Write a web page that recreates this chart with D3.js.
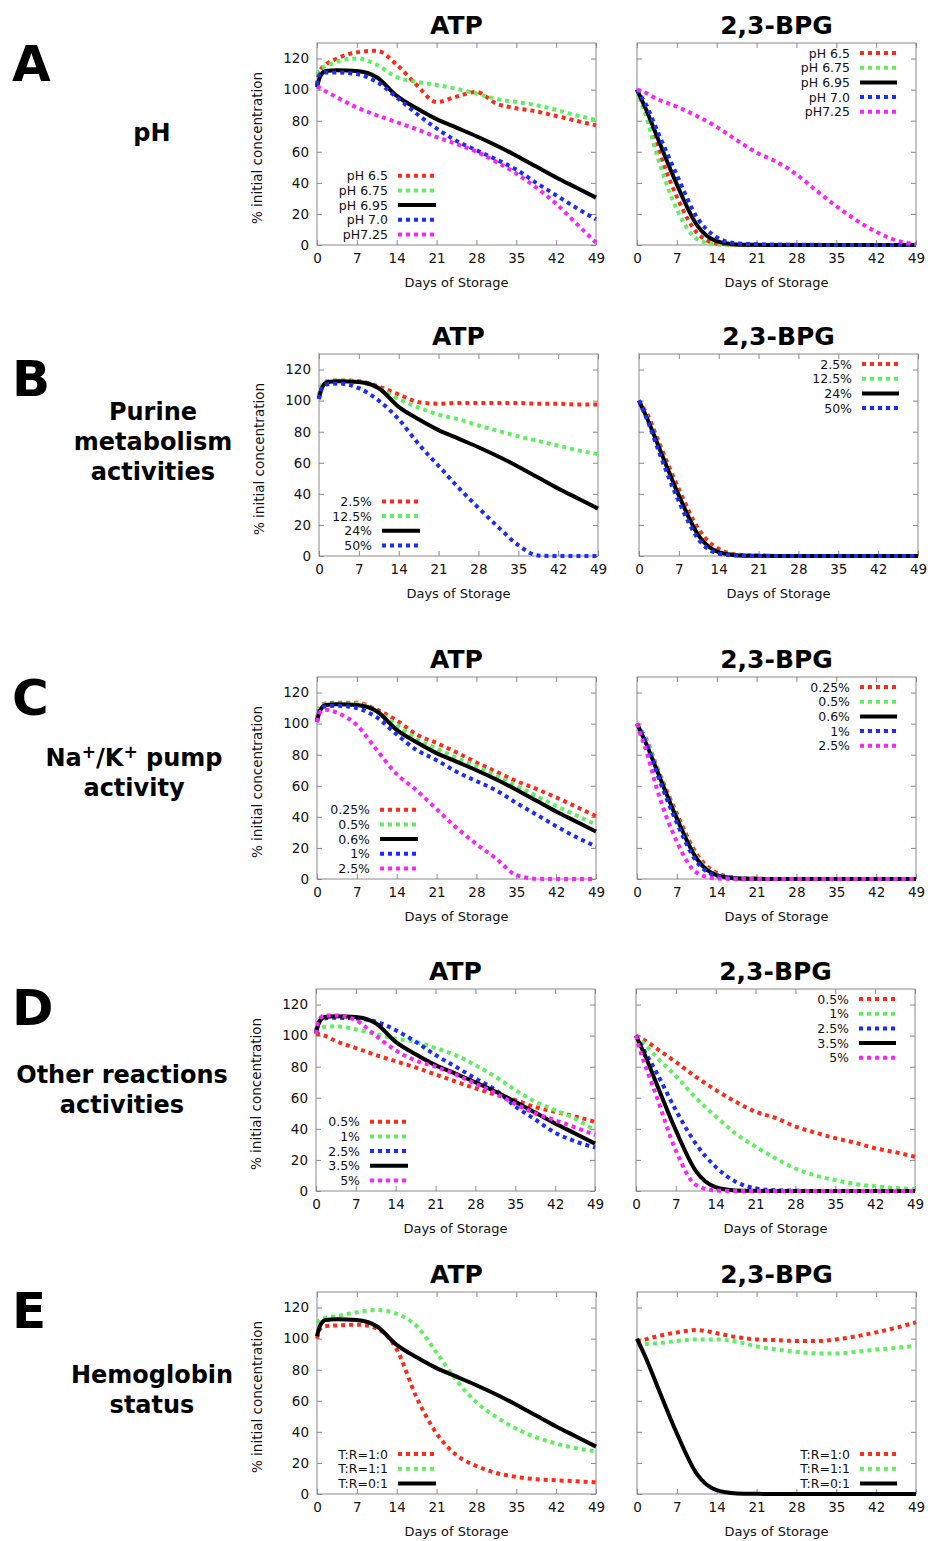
<!DOCTYPE html>
<html>
<head>
<meta charset="utf-8">
<script src="https://cdn.jsdelivr.net/npm/d3@7"></script>
<style>
  body { margin: 0; background: #fff; }
  text { font-family: "DejaVu Sans", sans-serif; }
</style>
</head>
<body>
<svg id="fig" width="928" height="1541"></svg>
<script>

var days = [0, 0.5, 1.5, 3.5, 7, 10.5, 14, 17.5, 21, 24.5, 28, 31.5, 35, 38.5, 42, 45.5, 49];
var xTicks = [0, 7, 14, 21, 28, 35, 42, 49];
var yTicks = [0, 20, 40, 60, 80, 100, 120];

// reference condition (black line) - same in every row
var baseATP = [101.5, 108, 112, 112.5, 112, 108, 96, 88, 81, 75.5, 70, 64, 57.5, 50.5, 43.5, 37, 30.5];
var baseBPG = [100, 96, 88, 70, 39, 13, 2.5, 0.4, 0.1, 0, 0, 0, 0, 0, 0, 0, 0];

// A - pH
var phLabels = ["pH 6.5", "pH 6.75", "pH 6.95", "pH 7.0", "pH7.25"];
var atpPH65  = [103, 112, 116, 120, 124, 125, 116, 103, 92, 95.5, 98.5, 91, 88, 86, 83, 80, 77];
var atpPH675 = [110, 113, 115, 118, 120, 116, 108, 105, 103, 100.5, 97.5, 94, 92, 90, 87, 83.5, 80.5];
var atpPH70  = [103, 110, 111, 111, 110, 105, 95, 84.5, 75, 67, 61, 55, 48.5, 40, 32, 24, 16.5];
var atpPH725 = [102, 101, 99, 95, 88.5, 83.5, 79, 74.5, 69.5, 65, 60, 53.5, 46, 37, 26.5, 14, 1.5];
var bpgPH65  = [100, 95, 86, 64, 31, 8, 1, 0.2, 0, 0, 0, 0, 0, 0, 0, 0, 0];
var bpgPH675 = [100, 94, 84, 58, 23, 4, 0.3, 0, 0, 0, 0, 0, 0, 0, 0, 0, 0];
var bpgPH70  = [100, 97, 91, 74, 45, 18, 5, 1, 0.5, 0.3, 0.2, 0.1, 0, 0, 0, 0, 0];
var bpgPH725 = [100, 99.5, 98, 94, 89, 83, 76, 67.5, 59.5, 53.5, 45.5, 35, 25, 16, 8.5, 3, 0.5];

// B - purine metabolism
var purLabels = ["2.5%", "12.5%", "24%", "50%"];
var atpPur25  = [103, 110, 112.5, 113, 112.5, 109, 104, 99, 98, 98.5, 98.5, 98.5, 98.5, 98, 98, 97.5, 97.5];
var atpPur125 = [103, 110, 112.5, 113, 112, 108, 101, 95.5, 91, 88, 84, 80.5, 77, 74, 71, 68, 65.5];
var atpPur50  = [101, 108, 110.5, 111, 108, 100, 88, 72, 58, 44, 31, 18.5, 7, 0.3, 0, 0, 0];
var bpgPur25  = [100, 97, 91, 73, 43, 17, 4.5, 0.8, 0.2, 0, 0, 0, 0, 0, 0, 0, 0];
var bpgPur125 = [100, 96, 88.5, 70.5, 39.5, 13.5, 2.8, 0.5, 0.1, 0, 0, 0, 0, 0, 0, 0, 0];
var bpgPur50  = [100, 95.5, 87, 67, 35, 10.5, 1.5, 0.3, 0, 0, 0, 0, 0, 0, 0, 0, 0];

// C - Na+/K+ pump
var naLabels = ["0.25%", "0.5%", "0.6%", "1%", "2.5%"];
var atpNa025 = [103, 111, 113, 113.5, 113.5, 109, 102, 93, 87.5, 81.5, 75, 69, 63, 58, 52.5, 46.5, 40.5];
var atpNa05  = [103, 111, 112.5, 113, 113, 108, 99, 90, 84, 78, 72.5, 66.5, 60, 53.5, 47, 41, 35];
var atpNa1   = [101, 109, 111, 111.5, 110, 104, 93, 83, 76.5, 69, 63, 57, 49, 41.5, 34, 27, 21];
var atpNa25  = [101, 107, 109, 107, 99, 83, 67.5, 57, 45, 33, 22.5, 13, 2.5, 0.2, 0, 0, 0];
var bpgNa025 = [100, 97, 91, 72, 42, 16, 4, 0.8, 0.2, 0, 0, 0, 0, 0, 0, 0, 0];
var bpgNa05  = [100, 96.5, 90, 71, 40, 14, 3, 0.5, 0.1, 0, 0, 0, 0, 0, 0, 0, 0];
var bpgNa1   = [100, 96, 88.5, 68, 36, 11, 2, 0.3, 0, 0, 0, 0, 0, 0, 0, 0, 0];
var bpgNa25  = [100, 94, 84, 58, 24, 4, 0.3, 0, 0, 0, 0, 0, 0, 0, 0, 0, 0];

// D - other reactions
var othLabels = ["0.5%", "1%", "2.5%", "3.5%", "5%"];
var atpOth05 = [101, 101, 100, 96.5, 92, 87.5, 83.5, 79.5, 75, 70.5, 66, 62, 58.5, 54, 51, 48, 44.5];
var atpOth1  = [102, 104, 105.5, 106, 104, 101, 98, 96, 92, 87.5, 81, 73.5, 65, 57.5, 52, 46.5, 39];
var atpOth25 = [103, 109, 111, 111.5, 111, 109, 103.5, 96, 87.5, 80, 72.5, 65, 54.5, 46, 37.5, 32, 28];
var atpOth5  = [101, 110, 113, 113, 110, 100, 90.5, 84, 80, 75, 69, 63, 56, 50, 45.5, 41, 36];
var bpgOth05 = [100, 99, 97, 92, 83, 73.5, 65, 57.5, 51, 47, 41.5, 37.5, 34, 31, 27.5, 25, 22];
var bpgOth1  = [100, 98, 94.5, 86.5, 74, 60, 48, 37, 28.5, 21, 14.5, 10, 7, 4.5, 3, 2, 1.3];
var bpgOth25 = [100, 96.5, 90, 77, 52, 30.5, 15.5, 6, 1.7, 0.5, 0.2, 0, 0, 0, 0, 0, 0];
var bpgOth5  = [100, 93, 82, 62, 26, 4, 0.3, 0, 0, 0, 0, 0, 0, 0, 0, 0, 0];

// E - hemoglobin status
var hbLabels = ["T:R=1:0", "T:R=1:1", "T:R=0:1"];
var atpHb10 = [100, 106, 108, 108.5, 109, 106.5, 93, 62, 39, 25, 18, 13.5, 11, 9.5, 8.8, 8.2, 7.5];
var atpHb11 = [110, 112, 113.5, 114.5, 117, 118.5, 116, 108, 91, 73, 59, 49.5, 42, 36.5, 32.5, 29.5, 27.5];
var bpgHb10 = [98, 98.5, 99.5, 101.5, 104, 105.5, 103.5, 101, 99.5, 99, 98.5, 98.5, 99.5, 101.5, 104, 107, 110.5];
var bpgHb11 = [96, 96, 96.5, 97, 98.5, 99.5, 99.5, 98, 95, 93, 91.5, 90.5, 90.5, 91.5, 93, 94, 95.5];

var styles = {
  red:     { color: "#ff2a1a", dash: "4,4" },
  green:   { color: "#5ef05e", dash: "4,4" },
  black:   { color: "#000000", dash: null },
  blue:    { color: "#1a2cff", dash: "4,4" },
  magenta: { color: "#ff22ff", dash: "4,4" }
};

// one row per experiment
var rows = [
  { letter: "A", letterY: 81, label: [[["pH"]]], labelX: 152, labelY: 141, top: 43, dx: 0,
    names: phLabels, colors: ["red", "green", "black", "blue", "magenta"],
    atp: [atpPH65, atpPH675, baseATP, atpPH70, atpPH725],
    bpg: [bpgPH65, bpgPH675, baseBPG, bpgPH70, bpgPH725], bpgKey: "top" },
  { letter: "B", letterY: 396, label: [[["Purine"]], [["metabolism"]], [["activities"]]], labelX: 153, labelY: 420, top: 354, dx: 2,
    names: purLabels, colors: ["red", "green", "black", "blue"],
    atp: [atpPur25, atpPur125, baseATP, atpPur50],
    bpg: [bpgPur25, bpgPur125, baseBPG, bpgPur50], bpgKey: "top" },
  { letter: "C", letterY: 715, label: [[["Na"], ["+", 1], ["/K"], ["+", 1], [" pump"]], [["activity"]]], labelX: 134, labelY: 766, top: 677, dx: 0,
    names: naLabels, colors: ["red", "green", "black", "blue", "magenta"],
    atp: [atpNa025, atpNa05, baseATP, atpNa1, atpNa25],
    bpg: [bpgNa025, bpgNa05, baseBPG, bpgNa1, bpgNa25], bpgKey: "top" },
  { letter: "D", letterY: 1025, label: [[["Other reactions"]], [["activities"]]], labelX: 122, labelY: 1083, top: 989, dx: -1,
    names: othLabels, colors: ["red", "green", "blue", "black", "magenta"],
    atp: [atpOth05, atpOth1, atpOth25, baseATP, atpOth5],
    bpg: [bpgOth05, bpgOth1, bpgOth25, baseBPG, bpgOth5], bpgKey: "top" },
  { letter: "E", letterY: 1328, label: [[["Hemoglobin"]], [["status"]]], labelX: 152, labelY: 1383, top: 1292, dx: 0,
    names: hbLabels, colors: ["red", "green", "black"],
    atp: [atpHb10, atpHb11, baseATP],
    bpg: [bpgHb10, bpgHb11, baseBPG], bpgKey: "bottom" }
];

var plotW = 279, plotH = 202;
var atpLeft = 317, bpgLeft = 637;
var keyStep = 14.7;

var svg = d3.select("#fig");

function drawPanel(row, kind) {
  var left = (kind == "atp" ? atpLeft : bpgLeft) + row.dx;
  var top = row.top;
  var bottom = top + plotH;
  var right = left + plotW;

  var x = d3.scaleLinear().domain([0, 49]).range([left, right]);
  var y = d3.scaleLinear().domain([0, 130]).range([bottom, top]);

  var g = svg.append("g").attr("class", "panel-" + kind);

  // inward ticks on all four sides
  var axB = g.append("g").attr("transform", "translate(0," + bottom + ")")
      .call(d3.axisBottom(x).tickValues(xTicks).tickSize(-5).tickSizeOuter(0).tickPadding(8));
  var axT = g.append("g").attr("transform", "translate(0," + top + ")")
      .call(d3.axisTop(x).tickValues(xTicks).tickSize(-5).tickSizeOuter(0).tickFormat(""));
  var axL = g.append("g").attr("transform", "translate(" + left + ",0)")
      .call(d3.axisLeft(y).tickValues(yTicks).tickSize(-5).tickSizeOuter(0).tickPadding(8)
        .tickFormat(kind == "atp" ? d3.format("d") : ""));
  var axR = g.append("g").attr("transform", "translate(" + right + ",0)")
      .call(d3.axisRight(y).tickValues(yTicks).tickSize(-5).tickSizeOuter(0).tickFormat(""));

  [axB, axT, axL, axR].forEach(function(a) {
    a.select(".domain").remove();
    a.selectAll(".tick line").attr("stroke", "#8a8a8a");
    a.selectAll(".tick text")
      .style("font-family", "DejaVu Sans")
      .style("font-size", "13.5px")
      .attr("fill", "#111");
  });

  // frame
  g.append("rect")
      .attr("x", left).attr("y", top)
      .attr("width", plotW).attr("height", plotH)
      .attr("fill", "none")
      .attr("stroke", "#8a8a8a")
      .attr("stroke-width", 1);

  // panel title
  g.append("text")
      .attr("x", (left + right) / 2)
      .attr("y", top - 9)
      .attr("text-anchor", "middle")
      .style("font-size", "25px")
      .style("font-weight", "bold")
      .text(kind == "atp" ? "ATP" : "2,3-BPG");

  // x axis title
  g.append("text")
      .attr("x", (left + right) / 2)
      .attr("y", bottom + 42)
      .attr("text-anchor", "middle")
      .style("font-size", "13px")
      .attr("fill", "#111")
      .text("Days of Storage");

  if (kind == "atp") {
    g.append("text")
        .attr("transform", "translate(" + (left - 55) + "," + ((top + bottom) / 2 + 4) + ") rotate(-90)")
        .attr("text-anchor", "middle")
        .style("font-size", "13.5px")
        .attr("fill", "#111")
        .text("% initial concentration");
  }

  var valueline = d3.line()
      .x(function(d) { return x(d[0]); })
      .y(function(d) { return y(d[1]); })
      .curve(d3.curveMonotoneX);

  var series = kind == "atp" ? row.atp : row.bpg;
  series.forEach(function(vals, i) {
    var st = styles[row.colors[i]];
    g.append("path")
        .datum(d3.zip(days, vals))
        .attr("d", valueline)
        .attr("fill", "none")
        .attr("stroke", st.color)
        .attr("stroke-width", 4)
        .attr("stroke-dasharray", st.dash);
  });

  // key
  var n = row.names.length;
  var maxChars = d3.max(row.names, function(s) { return s.length; });
  var textRight, y0;
  if (kind == "atp") {
    textRight = left + 8 + 9 * maxChars;
    y0 = bottom - 10.5 - (n - 1) * keyStep;
  } else {
    textRight = right - 66;
    y0 = row.bpgKey == "top" ? top + 10 : bottom - 10.5 - (n - 1) * keyStep;
  }
  var sampleX1 = kind == "atp" ? textRight + 10 : right - 56;
  var sampleX2 = kind == "atp" ? textRight + 48 : right - 19;

  row.names.forEach(function(name, i) {
    var st = styles[row.colors[i]];
    var ky = y0 + i * keyStep;
    g.append("text")
        .attr("x", textRight)
        .attr("y", ky)
        .attr("dy", "0.36em")
        .attr("text-anchor", "end")
        .style("font-size", "12.5px")
        .attr("fill", "#111")
        .text(name);
    g.append("line")
        .attr("x1", sampleX1).attr("x2", sampleX2)
        .attr("y1", ky).attr("y2", ky)
        .attr("stroke", st.color)
        .attr("stroke-width", 4)
        .attr("stroke-dasharray", st.dash);
  });
}

rows.forEach(function(row) {
  // big row letter
  svg.append("text")
      .attr("x", 12)
      .attr("y", row.letterY)
      .style("font-size", "50px")
      .style("font-weight", "bold")
      .text(row.letter);

  // row description, possibly several lines with superscripts
  row.label.forEach(function(line, li) {
    var t = svg.append("text")
        .attr("x", row.labelX)
        .attr("y", row.labelY + li * 30)
        .attr("text-anchor", "middle")
        .style("font-size", "24px")
        .style("font-weight", "bold");
    var shift = 0;
    line.forEach(function(seg) {
      var ts = t.append("tspan").text(seg[0]);
      if (seg[1]) {
        ts.attr("dy", -8 - shift).style("font-size", "17px");
        shift = -8;
      } else {
        ts.attr("dy", -shift);
        shift = 0;
      }
    });
  });

  drawPanel(row, "atp");
  drawPanel(row, "bpg");
});

</script>
</body>
</html>
